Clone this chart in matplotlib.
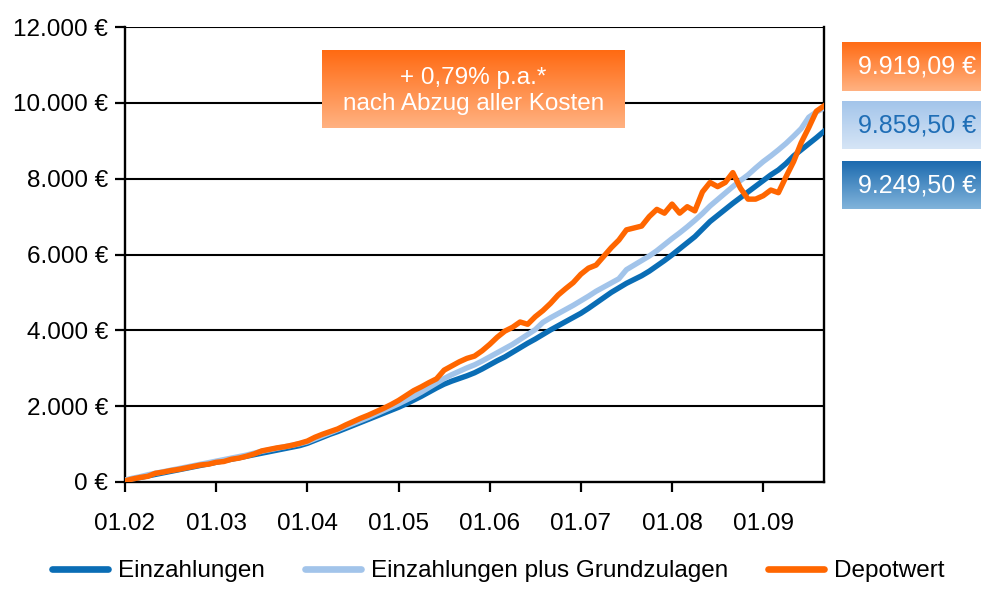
import numpy as np
import matplotlib
matplotlib.use("Agg")
import matplotlib.pyplot as plt
from matplotlib.colors import LinearSegmentedColormap

plt.rcParams['font.family'] = ['Liberation Sans', 'DejaVu Sans']

# ---------------- data (thousand EUR, monthly 01/2002 .. 09/2009) ----------------
einzahlungen = [
    0.04, 0.08, 0.12, 0.16, 0.20, 0.24, 0.28, 0.32, 0.36, 0.40, 0.44, 0.48,
    0.52, 0.56, 0.60, 0.64, 0.68, 0.72, 0.76, 0.80, 0.84, 0.88, 0.92, 0.96,
    1.02, 1.10, 1.18, 1.26, 1.33, 1.41, 1.49, 1.57, 1.65, 1.73, 1.81, 1.89,
    1.97, 2.06, 2.16, 2.26, 2.37, 2.48, 2.58, 2.66, 2.73, 2.80, 2.88, 2.98,
    3.09, 3.20, 3.30, 3.42, 3.54, 3.66, 3.77, 3.89, 4.01, 4.12, 4.23, 4.34,
    4.45, 4.58, 4.72, 4.86, 5.00, 5.12, 5.24, 5.34, 5.44, 5.56, 5.70, 5.84,
    5.99, 6.15, 6.31, 6.47, 6.67, 6.87, 7.03, 7.19, 7.35, 7.50, 7.65, 7.80,
    7.95, 8.10, 8.23, 8.40, 8.60, 8.76, 8.92, 9.08, 9.2495]
einz_plus_zulagen = [
    0.05, 0.10, 0.14, 0.19, 0.23, 0.27, 0.31, 0.35, 0.39, 0.43, 0.47, 0.51,
    0.55, 0.59, 0.63, 0.67, 0.71, 0.76, 0.81, 0.85, 0.89, 0.93, 0.97, 1.01,
    1.06, 1.14, 1.22, 1.30, 1.38, 1.46, 1.54, 1.62, 1.70, 1.79, 1.88, 1.97,
    2.06, 2.16, 2.26, 2.37, 2.49, 2.61, 2.73, 2.83, 2.92, 3.01, 3.09, 3.19,
    3.30, 3.41, 3.52, 3.63, 3.76, 3.89, 4.02, 4.21, 4.33, 4.44, 4.55, 4.66,
    4.78, 4.90, 5.03, 5.14, 5.25, 5.36, 5.60, 5.72, 5.84, 5.96, 6.10, 6.26,
    6.42, 6.57, 6.73, 6.90, 7.08, 7.28, 7.45, 7.62, 7.79, 7.95, 8.10, 8.28,
    8.45, 8.60, 8.76, 8.93, 9.12, 9.32, 9.62, 9.76, 9.8595]
depotwert = [
    0.03, 0.08, 0.12, 0.15, 0.23, 0.26, 0.30, 0.33, 0.37, 0.41, 0.45, 0.47,
    0.52, 0.54, 0.60, 0.63, 0.68, 0.74, 0.82, 0.86, 0.90, 0.93, 0.97, 1.02,
    1.08, 1.18, 1.26, 1.33, 1.40, 1.50, 1.59, 1.68, 1.76, 1.85, 1.94, 2.04,
    2.15, 2.28, 2.41, 2.51, 2.62, 2.72, 2.95, 3.06, 3.17, 3.26, 3.32, 3.46,
    3.63, 3.82, 3.98, 4.08, 4.22, 4.16, 4.36, 4.52, 4.71, 4.93, 5.10, 5.26,
    5.48, 5.64, 5.72, 5.95, 6.18, 6.38, 6.65, 6.70, 6.75, 7.00, 7.19, 7.09,
    7.33, 7.09, 7.26, 7.15, 7.65, 7.90, 7.79, 7.90, 8.16, 7.75, 7.46, 7.46,
    7.55, 7.70, 7.63, 8.05, 8.45, 8.95, 9.35, 9.78, 9.91909]

series_names = ["Einzahlungen", "Einzahlungen plus Grundzulagen", "Depotwert"]
end_labels = ["9.249,50 €", "9.859,50 €", "9.919,09 €"]
x_tick_labels = ["01.02", "01.03", "01.04", "01.05", "01.06", "01.07", "01.08", "01.09"]
y_ticks = [0, 2000, 4000, 6000, 8000, 10000, 12000]
y_tick_labels = ["0 €", "2.000 €", "4.000 €", "6.000 €", "8.000 €", "10.000 €", "12.000 €"]
box_text = "+ 0,79% p.a.*\nnach Abzug aller Kosten"

# ---------------- styling ----------------
c_dark = "#0A6DB5"
c_light = "#A2C4EA"
c_orange = "#FF6600"

fig = plt.figure(figsize=(9.81, 5.89), dpi=100)
ax = fig.add_axes([125/981, 1-482/589, (824-125)/981, (482-27)/589])

months = np.arange(len(depotwert))
ax.plot(months, np.array(einzahlungen)*1000, color=c_dark, lw=3.9, zorder=3,
        solid_joinstyle='round', label=series_names[0])
ax.plot(months, np.array(einz_plus_zulagen)*1000, color=c_light, lw=3.9, zorder=4,
        solid_joinstyle='round', label=series_names[1])
ax.plot(months, np.array(depotwert)*1000, color=c_orange, lw=3.9, zorder=5,
        solid_joinstyle='round', label=series_names[2])

ax.set_xlim(0, len(depotwert)-1)
ax.set_ylim(0, 12000)
ax.set_yticks(y_ticks)
ax.set_yticklabels(y_tick_labels)
ax.set_xticks(np.arange(len(x_tick_labels))*12)
ax.set_xticklabels(x_tick_labels)
for yv in y_ticks[1:]:
    ax.axhline(yv, color="black", lw=1.5, zorder=1)
ax.spines["top"].set_visible(False)
for s in ["left", "right", "bottom"]:
    ax.spines[s].set_linewidth(1.7)
    ax.spines[s].set_color("black")
ax.tick_params(axis='y', direction='out', length=7, width=1.6, pad=5, labelsize=17.5)
ax.tick_params(axis='x', direction='out', length=7, width=1.6, pad=15, labelsize=17.5)

# legend
handles, labels = ax.get_legend_handles_labels()
leg = fig.legend(handles, labels, loc='center', bbox_to_anchor=(0.508, 0.030), ncol=3,
                 frameon=False, fontsize=17.5, handlelength=2.3, handletextpad=0.42,
                 columnspacing=1.65, borderpad=0.1)
for h in leg.get_lines():
    h.set_linewidth(4.8)
    h.set_solid_capstyle('round')


def grad_box(rect, top, bottom, text, tcolor, tx=0.5, ty=0.5, fs=18, ls=1.05):
    bax = fig.add_axes(rect)
    cmap = LinearSegmentedColormap.from_list("g", [top, bottom])
    grad = np.linspace(0, 1, 256).reshape(-1, 1)
    bax.imshow(grad, aspect='auto', cmap=cmap, extent=[0, 1, 0, 1], origin='upper')
    bax.set_xlim(0, 1)
    bax.set_ylim(0, 1)
    bax.axis('off')
    bax.text(tx, ty, text, ha='center', va='center', color=tcolor, fontsize=fs,
             linespacing=ls)
    return bax

grad_box([322/981, 1-127.7/589, 303/981, 77.7/589], "#FF6A12", "#FFB282", box_text, "white",
         ty=0.47, fs=17.5, ls=1.2)
grad_box([842/981, 1-91/589, 139/981, 49.3/589], "#FF6A12", "#FFB282", end_labels[2], "white", tx=0.54)
grad_box([842/981, 1-149.3/589, 139/981, 48.3/589], "#A2C4EA", "#D6E5F6", end_labels[1], "#1F6EB6", tx=0.54)
grad_box([842/981, 1-209.3/589, 139/981, 48.3/589], "#1A69AE", "#82B4DB", end_labels[0], "white", tx=0.54)

fig.savefig("out.png", dpi=100)
